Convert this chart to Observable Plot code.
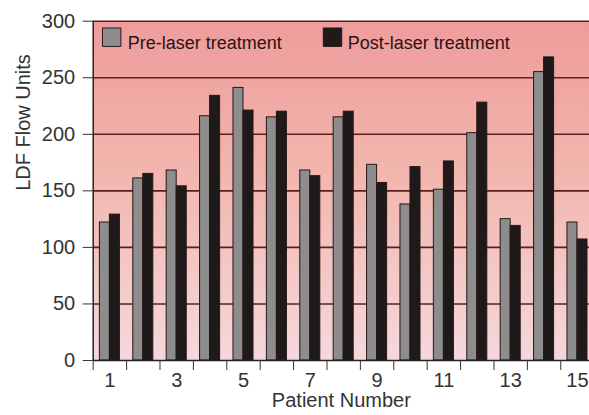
<!DOCTYPE html>
<html><head><meta charset="utf-8">
<script src="https://cdn.jsdelivr.net/npm/d3@7"></script>
<script src="https://cdn.jsdelivr.net/npm/@observablehq/plot@0.6"></script>
<style>
html,body{margin:0;padding:0;background:#fff;overflow:hidden}
</style></head><body><div id="chart"></div>
<script>
const patients = [1, 2, 3, 4, 5, 6, 7, 8, 9, 10, 11, 12, 13, 14, 15];
const preLaser = [122, 161, 168, 216, 241, 215, 168, 215, 173, 138, 151, 201, 125, 255, 122];
const postLaser = [129, 165, 154, 234, 221, 220, 163, 220, 157, 171, 176, 228, 119, 268, 107];
const seriesNames = ["Pre-laser treatment", "Post-laser treatment"];
const yTicks = [0, 50, 100, 150, 200, 250, 300];
const xLabelTicks = [1, 3, 5, 7, 9, 11, 13, 15];
const xTitle = "Patient Number";
const yTitle = "LDF Flow Units";

const preColor = "#8d8d8d";
const postColor = "#1e1a1a";
const barW = 0.3;
const groupEdges = patients.map(p => p - 0.5).concat([patients[patients.length - 1] + 0.5]);

const rows = patients.flatMap((p, i) => [
  {patient: p, series: seriesNames[0], value: preLaser[i]},
  {patient: p, series: seriesNames[1], value: postLaser[i]}
]);

const font = "'Liberation Sans', Arial, Helvetica, sans-serif";

const plot = Plot.plot({
  width: 589,
  height: 415,
  marginLeft: 92.7,
  marginRight: 0,
  marginTop: 20.7,
  marginBottom: 55,
  style: {fontFamily: font, fontSize: "20px", color: "#333", background: "white", overflow: "visible"},
  x: {type: "linear", domain: [0.5, 15.36]},
  y: {domain: [0, 300]},
  marks: [
    Plot.frame({fill: "url(#bgGrad)", stroke: null}),
    Plot.ruleY(yTicks.filter(v => v > 0), {y: d => d, stroke: "#5a2020", strokeWidth: 1.6}),
    Plot.rectY(rows, {
      x1: d => d.series === seriesNames[0] ? d.patient - barW : d.patient,
      x2: d => d.series === seriesNames[0] ? d.patient : d.patient + barW,
      y1: 0,
      y2: "value",
      fill: d => d.series === seriesNames[0] ? preColor : postColor,
      stroke: "#2a1616",
      strokeWidth: 1
    }),
    Plot.ruleY([0], {stroke: "#222", strokeWidth: 1.5}),
    Plot.ruleX([0.5], {stroke: "#222", strokeWidth: 1.5}),
    Plot.axisY(yTicks, {tickSize: 10, tickPadding: 8, label: null, fontSize: 20, stroke: "#333", fill: "#333"}),
    Plot.axisX(groupEdges, {tickSize: 10, tickFormat: () => "", label: null, stroke: "#333"}),
    Plot.axisX(xLabelTicks, {tickSize: 0, tickPadding: 12, label: null, fontSize: 20, fill: "#333"}),
    Plot.text([yTitle], {text: d => d, frameAnchor: "left", rotate: -90, dx: -70, fontSize: 20, fill: "#333"}),
    Plot.text([xTitle], {text: d => d, frameAnchor: "bottom", dy: 46, fontSize: 20, fill: "#333"}),
    Plot.dot([seriesNames[0]], {frameAnchor: "top-left", dx: 18.5, dy: 16, symbol: "square", r: 10.4, fill: preColor, stroke: "#2a1616", strokeWidth: 1}),
    Plot.dot([seriesNames[1]], {frameAnchor: "top-left", dx: 239.3, dy: 16, symbol: "square", r: 10.4, fill: postColor, stroke: "#2a1616", strokeWidth: 1}),
    Plot.text([seriesNames[0]], {text: d => d, frameAnchor: "top-left", dx: 34.6, dy: 15.5, textAnchor: "start", fontSize: 18, fill: "#2b1414"}),
    Plot.text([seriesNames[1]], {text: d => d, frameAnchor: "top-left", dx: 254.6, dy: 15.5, textAnchor: "start", fontSize: 18, fill: "#2b1414"})
  ]
});

const defs = d3.select(plot).insert("defs", ":first-child");
const grad = defs.append("linearGradient").attr("id", "bgGrad").attr("x1", 0).attr("y1", 0).attr("x2", 0).attr("y2", 1);
grad.append("stop").attr("offset", "0%").attr("stop-color", "#ee9c9c");
grad.append("stop").attr("offset", "45%").attr("stop-color", "#f2b6ae");
grad.append("stop").attr("offset", "100%").attr("stop-color", "#f5d8dc");

document.getElementById("chart").appendChild(plot);
</script>
</body></html>
